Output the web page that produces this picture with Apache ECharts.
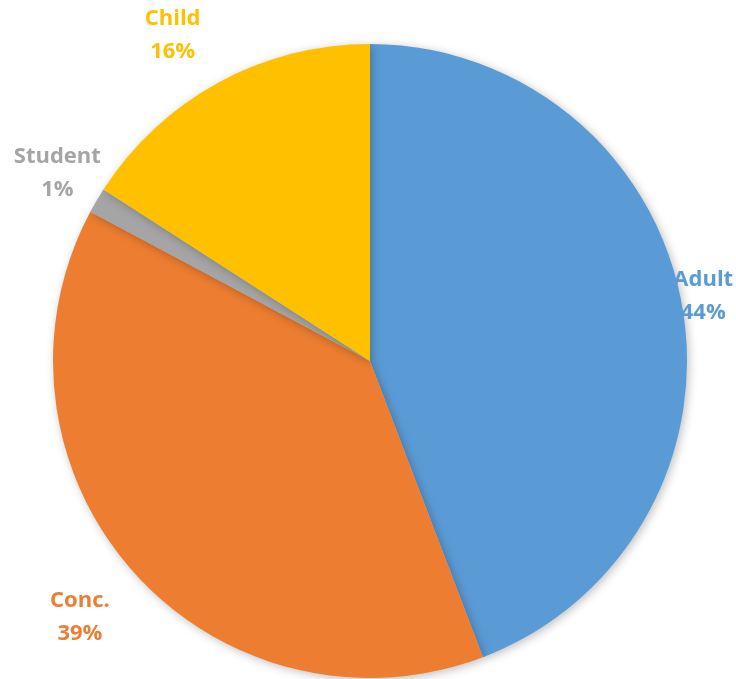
<!DOCTYPE html>
<html><head><meta charset="utf-8">
<script src="https://cdn.jsdelivr.net/npm/echarts@6/dist/echarts.min.js"></script>
<style>html,body{margin:0;padding:0;background:#fff}#c{width:736px;height:679px}</style>
</head><body><div id="c"></div>
<script>
const categories = ['Adult', 'Conc.', 'Student', 'Child'];
const values = [44.2, 38.6, 1.3, 15.9];
const colors = ['#5B9BD5', '#ED7D31', '#A5A5A5', '#FFC000'];
// label placement tweaks (style): radial offset in px, angle tweak in degrees
const labelOffsets = [23, 68.5, 49, 66];
const labelAngleTweak = [-1.0, 0.2, 0.9, -2.4];

const CX = 370, CY = 361, R = 317;
const total = values.reduce((a, b) => a + b, 0);
function midAngle(i) {
  let cum = 0;
  for (let k = 0; k < i; k++) cum += values[k];
  return (cum + values[i] / 2) / total * 2 * Math.PI;
}

const chart = echarts.init(document.getElementById('c'), null, {renderer: 'canvas'});
chart.setOption({
  animation: false,
  series: [{
    type: 'pie',
    center: [CX, CY],
    radius: R,
    startAngle: 90,
    clockwise: true,
    percentPrecision: 0,
    avoidLabelOverlap: false,
    itemStyle: {shadowBlur: 10, shadowColor: 'rgba(0,0,0,0.25)', shadowOffsetX: 2, shadowOffsetY: 2},
    label: {
      show: true,
      position: 'outside',
      formatter: '{b}\n{d}%',
      fontFamily: 'Open Sans',
      fontWeight: 'bold',
      fontSize: 22,
      lineHeight: 33,
      align: 'center',
      overflow: 'none',
      edgeDistance: 0,
      bleedMargin: 0
    },
    labelLine: {show: false},
    labelLayout: function (p) {
      const i = p.dataIndex;
      const a = midAngle(i) + labelAngleTweak[i] * Math.PI / 180;
      const r = R + labelOffsets[i];
      return {x: CX + r * Math.sin(a), y: CY - r * Math.cos(a) + 2.5, align: 'center', verticalAlign: 'middle', hideOverlap: false};
    },
    data: categories.map((c, i) => ({
      name: c, value: values[i],
      itemStyle: {color: colors[i]},
      label: {color: colors[i]}
    }))
  }]
});
</script></body></html>
